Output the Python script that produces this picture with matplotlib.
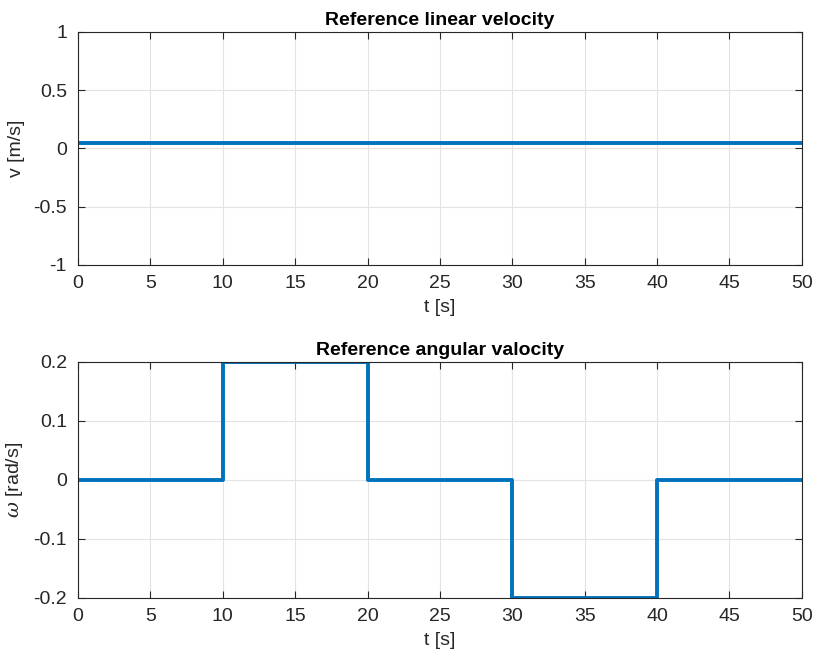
import numpy as np
import matplotlib
matplotlib.use("Agg")
import matplotlib.pyplot as plt

# data
t_lin = [0, 50]
v_ref = [0.05, 0.05]
t_ang = [0, 10, 20, 30, 40, 50]
w_ref = [0.0, 0.2, 0.0, -0.2, 0.0, 0.0]
x_ticks = list(range(0, 51, 5))
v_ticks = [-1, -0.5, 0, 0.5, 1]
w_ticks = [-0.2, -0.1, 0, 0.1, 0.2]

plt.rcParams["font.family"] = ["Liberation Sans", "DejaVu Sans"]
plt.rcParams["mathtext.fontset"] = "dejavuserif"
BLUE = "#0072BD"
FS = 14

fig = plt.figure(figsize=(8.16, 6.62), dpi=100)
ax1 = fig.add_axes([0.0956, 0.5997, 0.887, 0.352])
ax2 = fig.add_axes([0.0956, 0.0967, 0.887, 0.3565])


def style(ax):
    ax.set_xlim(0, 50)
    ax.set_xticks(x_ticks)
    ax.grid(True, color="#e3e3e3", linewidth=0.8)
    ax.set_axisbelow(True)
    ax.tick_params(direction="in", top=True, right=True, labelsize=FS,
                   colors="#262626", length=5, width=0.8)
    ax.tick_params(axis="x", pad=7)
    ax.tick_params(axis="y", pad=8)
    for s in ax.spines.values():
        s.set_color("#262626")
        s.set_linewidth(0.8)
    ax.set_xlabel("t [s]", fontsize=FS, color="#262626", labelpad=5)


ax1.plot(t_lin, v_ref, color=BLUE, linewidth=2.8)
ax1.set_ylim(-1, 1)
ax1.set_yticks(v_ticks)
ax1.set_yticklabels(["-1", "-0.5", "0", "0.5", "1"])
ax1.set_ylabel("v [m/s]", fontsize=FS, color="#262626", labelpad=6)
ax1.set_title("Reference linear velocity", fontsize=FS, fontweight="bold", pad=5)
style(ax1)

ax2.plot(t_ang, w_ref, color=BLUE, linewidth=2.8, drawstyle="steps-post")
ax2.set_ylim(-0.2, 0.2)
ax2.set_yticks(w_ticks)
ax2.set_yticklabels(["-0.2", "-0.1", "0", "0.1", "0.2"])
ax2.set_ylabel(r"$\omega$ [rad/s]", fontsize=FS, color="#262626", labelpad=6)
ax2.set_title("Reference angular valocity", fontsize=FS, fontweight="bold", pad=5)
style(ax2)

fig.savefig("out.png", dpi=100)
